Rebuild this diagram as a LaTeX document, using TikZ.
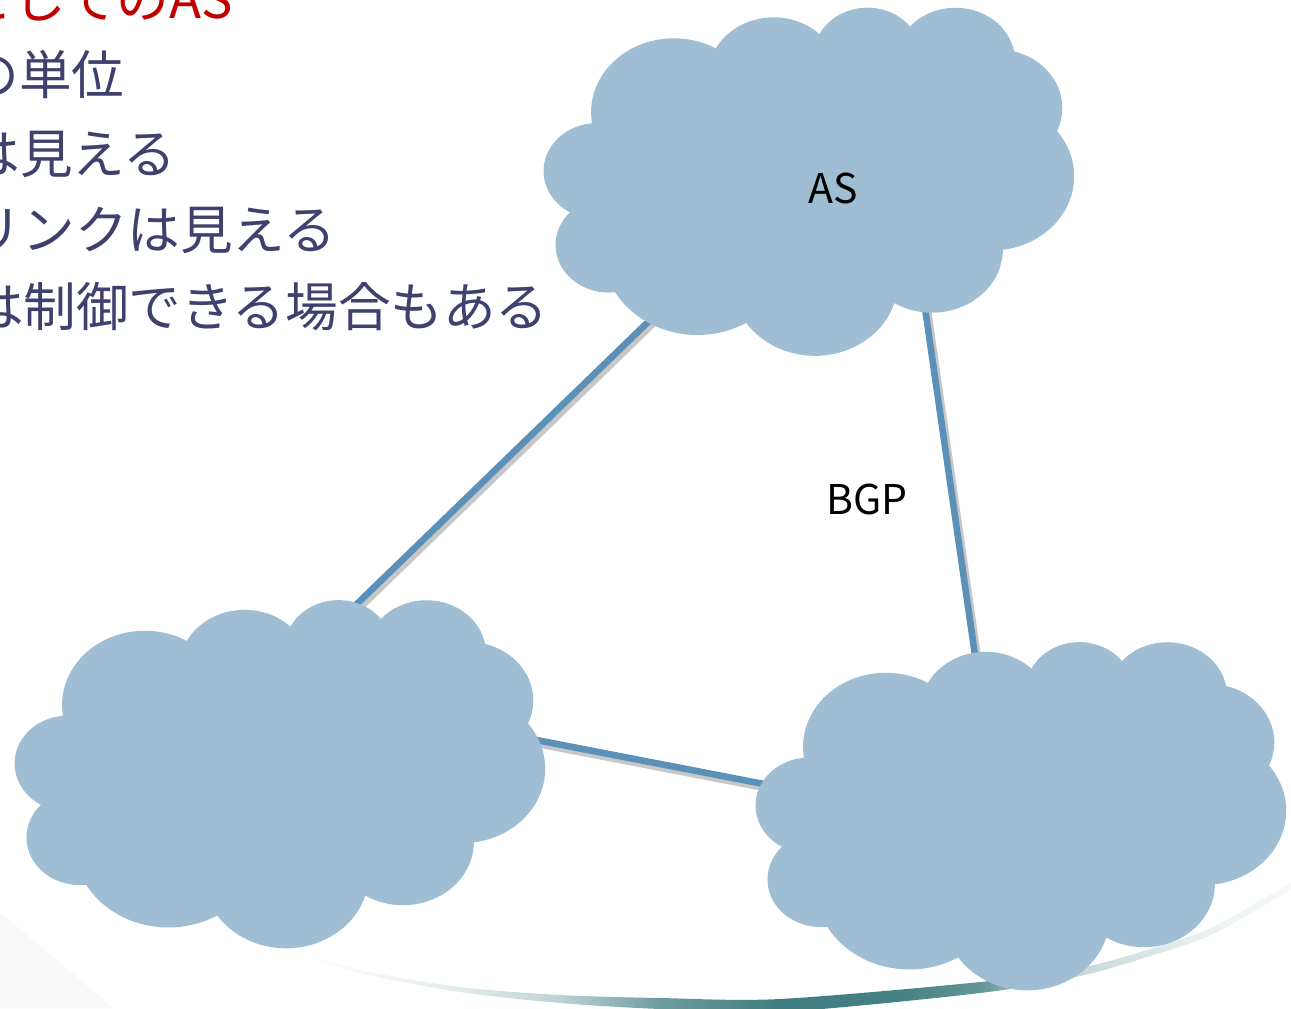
\documentclass[tikz,border=0pt]{standalone}
\usepackage{fontspec}
\setmainfont{Noto Sans CJK JP}
\usetikzlibrary{positioning,calc}
\definecolor{cloudblue}{RGB}{159,189,211}
\definecolor{linkblue}{RGB}{91,144,184}
\definecolor{textnavy}{RGB}{62,64,110}
\definecolor{titlered}{RGB}{192,0,0}
\definecolor{swoosh}{RGB}{64,125,128}
\definecolor{slidegray}{RGB}{248,248,248}
\pgfdeclarehorizontalshading{swooshshade}{100bp}{color(0bp)=(white); color(25bp)=(white);
  color(28.6bp)=(swoosh!5); color(33.5bp)=(swoosh!15); color(38.4bp)=(swoosh!34);
  color(43.4bp)=(swoosh!76); color(49.3bp)=(swoosh); color(55.3bp)=(swoosh!97);
  color(59.2bp)=(swoosh!81); color(61.7bp)=(swoosh!50); color(64.1bp)=(swoosh!30);
  color(67.4bp)=(swoosh!20); color(70.7bp)=(swoosh!10); color(75bp)=(swoosh!5); color(100bp)=(swoosh!5)}
\tikzstyle{cloudbox} = [minimum width=265pt,minimum height=174pt,inner sep=0pt,outer sep=0pt]
\tikzstyle{aslink} = [line width=3.3pt,linkblue]
\tikzstyle{linkshade} = [line width=4pt,black,opacity=0.22,transform canvas={shift={(1.2pt,-1.8pt)}}]
\tikzstyle{astext} = [font=\fontsize{20.5pt}{24pt}\selectfont,inner sep=0pt]
\tikzstyle{itemtext} = [font=\fontsize{26.3pt}{30pt}\selectfont,textnavy,inner sep=0pt,anchor=base east]
\tikzstyle{titletext} = [itemtext,titlered]

% one arc of the cloud: x radius, y radius, start, sweep (angles seen on the page)
\newcommand\cloudarc[4]{arc[x radius=#1,y radius=#2,
  start angle={atan2(#1*sin(#3),#2*cos(#3))},
  delta angle={mod(atan2(#1*sin(#3+#4),#2*cos(#3+#4))-atan2(#1*sin(#3),#2*cos(#3))+720,360)}]}
% the cloud filling the box of a cloudbox node
\newcommand\ascloud[1]{%
  \fill[cloudblue,shift={(#1.north west)},x=0.0061343pt,y=-0.0040278pt]
    (3900,14370) \cloudarc{6753}{9190}{-190.4875}{123.7805}
    \cloudarc{5333}{7267}{-144.1024}{89.9452}
    \cloudarc{4365}{5945}{-145.8079}{99.7230}
    \cloudarc{4857}{6595}{-130.9861}{117.2417}
    \cloudarc{5333}{7273}{-78.7089}{109.0269}
    \cloudarc{6775}{9220}{-46.2673}{130.2690}
    \cloudarc{5785}{7867}{0.6250}{114.0333}
    \cloudarc{6752}{9215}{22.4516}{115.1726}
    \cloudarc{7720}{10543}{66.2426}{75.7110}
    \cloudarc{4360}{5918}{-274.9421}{146.7356}
    \cloudarc{4345}{5945}{-246.8285}{152.5189}
    -- cycle;}

\begin{document}
\begin{tikzpicture}[x=0.5pt,y=-0.5pt]
  \useasboundingbox (0,0) rectangle (1291,1008);
  \clip (0,0) rectangle (1291,1008);

  % slide background
  \fill[slidegray] (0,912) -- (113,1008) -- (0,1008) -- cycle;
  \shade[shading=swooshshade]
    plot[smooth] coordinates {(287,948) (360,970) (460,987) (560,995) (660,998) (780,999)
      (980,982) (1080,968) (1147,950) (1213,927) (1300,877)}
    -- plot[smooth] coordinates {(1300,884) (1213,934) (1147,957) (1080,976) (980,993)
      (780,1012) (660,1009) (560,1003) (460,992) (360,973) (287,948)} -- cycle;

  % slide text (cut at the left)
  \node (title) [titletext] at (233,18) {としてのAS};
  \node (item1) [itemtext] at (125,94) {の単位};
  \node (item2) [itemtext] at (177,173) {は見える};
  \node (item3) [itemtext] at (337,249) {リンクは見える};
  \node (item4) [itemtext] at (549,326) {は制御できる場合もある};

  % the three AS
  \node (as1) [cloudbox] at (809,180.5) {};
  \node (as2) [cloudbox] at (280,773) {};
  \node (as3) [cloudbox] at (1021,815) {};

  \coordinate (as1l) at (680,291);
  \coordinate (as1r) at (921,280);
  \coordinate (as2t) at (330,630);
  \coordinate (as2r) at (500,733);
  \coordinate (as3t) at (980,690);
  \coordinate (as3l) at (800,791);

  \foreach \a/\b in {as1l/as2t, as1r/as3t, as2r/as3l} {
    \draw[linkshade] (\a) -- (\b);
    \draw[aslink] (\a) -- (\b);
  }

  \ascloud{as1}
  \ascloud{as2}
  \ascloud{as3}

  \node (asname) [astext] at (833,188) {AS};
  \node (bgp) [astext] at (867,499) {BGP};
\end{tikzpicture}
\end{document}
